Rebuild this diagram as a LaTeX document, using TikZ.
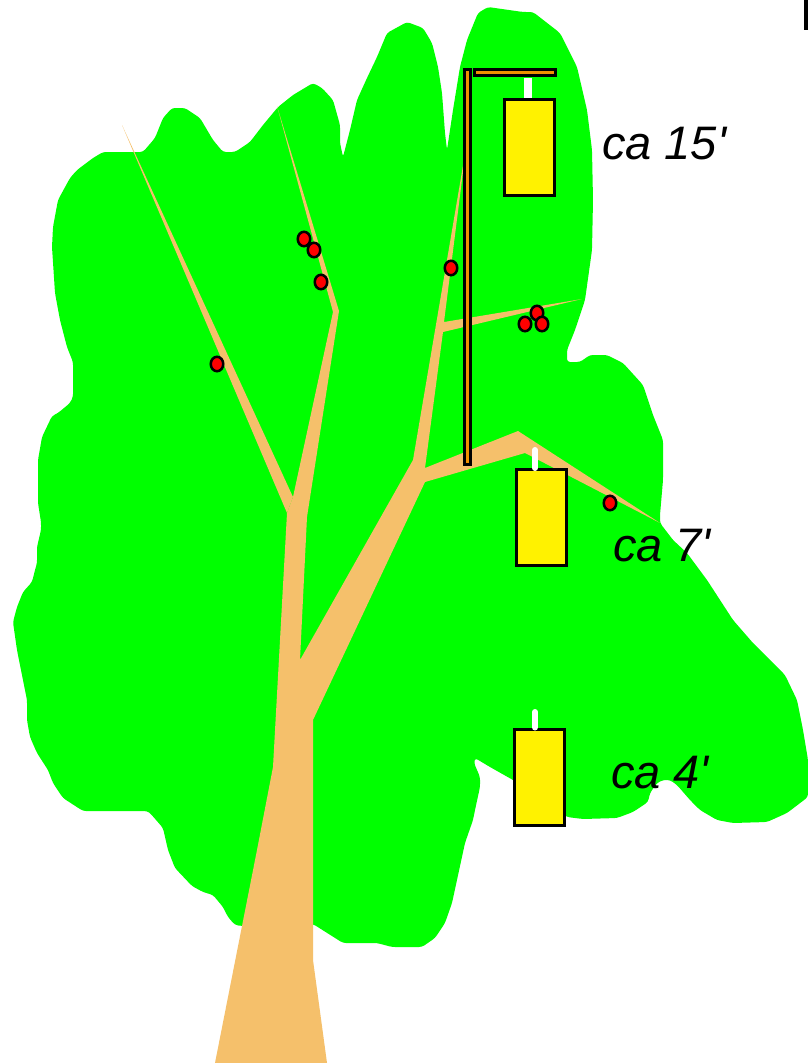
\documentclass[tikz,border=0pt]{standalone}
\usepackage{fontspec}
\newfontfamily\labelfont{Liberation Sans}
\usetikzlibrary{shapes.geometric}

\definecolor{leafgreen}{HTML}{00FF00}
\definecolor{bark}{HTML}{F5C06B}
\definecolor{polebrown}{HTML}{F09000}

\tikzset{
  leaves/.style={fill=leafgreen, rounded corners=3pt},
  wood/.style={fill=bark},
  pole/.style={draw=black, line width=3pt, fill=polebrown},
  trap/.style={rectangle, draw=black, line width=3pt, fill=yellow,
    minimum width=50pt, minimum height=96pt, inner sep=0pt},
  hanger/.style={white, line width=6pt, line cap=round},
  fruit/.style={ellipse, draw=black, line width=2.5pt, fill=red,
    minimum width=12.5pt, minimum height=14.5pt, inner sep=0pt},
  heightlabel/.style={font=\labelfont\itshape\fontsize{47}{50}\selectfont,
    anchor=base west, inner sep=0pt}
}

\begin{document}
\begin{tikzpicture}[x=1pt, y=-1pt]
  \useasboundingbox (0,0) rectangle (808,1063);
  \fill[white] (0,0) rectangle (808,1063);

  % crown
  \fill[leaves] plot[sharp plot] coordinates {
    (103,152) (143,152) (155,138) (163,118) (172,108) (185,108) (200,118)
    (213,140) (223,152) (235,152) (250,142) (263,125) (278,107) (293,95)
    (313,83) (322,88) (333,100) (340,125) (340,143) (343,157) (350,130)
    (357,100) (367,78) (377,57) (387,33) (407,22) (423,28) (432,43)
    (438,67) (442,93) (445,133) (447,150) (453,110) (460,67) (467,40)
    (478,13) (488,7) (523,12) (533,12) (560,33) (577,67) (587,110)
    (592,150) (593,200) (592,250) (585,300) (575,330) (567,350) (567,362)
    (580,362) (590,355) (607,355) (623,363) (643,385) (653,415) (663,440)
    (663,480) (660,515) (660,523) (673,540) (687,553) (707,580) (733,620)
    (753,643) (767,657) (785,675) (797,700) (803,730) (808,760) (808,797)
    (787,813) (767,822) (733,823) (717,820) (700,810) (690,800) (677,785)
    (670,780) (663,780) (657,783) (650,793) (648,802) (633,812) (617,818)
    (583,819) (567,817) (513,780) (490,767) (475,758) (474,763) (480,777)
    (480,787) (475,810) (473,820) (465,843) (452,903) (445,923) (435,938)
    (422,947) (392,947) (377,943) (343,943) (313,924) (242,926) (235,925)
    (228,917) (223,907) (213,895) (203,892) (192,886) (175,868) (168,850)
    (163,828) (150,813) (147,811) (83,811) (63,798) (53,783) (48,770)
    (37,753) (30,737) (27,720) (27,700) (17,650) (13,622) (17,607)
    (23,592) (32,582) (35,570) (37,563) (37,547) (41,530) (41,522)
    (38,503) (38,460) (42,437) (52,416) (58,413) (70,403) (73,397)
    (73,362) (67,347) (60,320) (55,293) (52,247) (53,227) (58,200)
    (70,178) (77,170) (93,158)} -- cycle;

  % trunk and branches
  \fill[wood] (122,125) -- (293,497) -- (287,513) -- cycle;
  \fill[wood] (215,1063) -- (257,850) -- (273,767) -- (287,513) -- (293,497)
    -- (333,312) -- (277,106) -- (339,311) -- (307,517) -- (300,660)
    -- (413,460) -- (466,148) -- (444,322) -- (582,299) -- (443,332)
    -- (425,468) -- (518,431) -- (660,523) -- (525,453) -- (425,482)
    -- (313,720) -- (313,960) -- (327,1063) -- cycle;

  % pole with its arm
  \draw[pole] (464,69.5) rectangle (470.5,464);
  \draw[pole] (474.5,69.5) rectangle (555.5,75.5);

  % traps
  \node[trap] (trapHigh) at (529.5,147.5) {};
  \node[trap] (trapMid) at (541.5,517.5) {};
  \node[trap] (trapLow) at (539.5,777) {};
  \coordinate (hookHigh) at (528,78);
  \coordinate (hookMid) at (535,450);
  \coordinate (hookLow) at (535,712);
  \draw[hanger, line cap=butt, line width=8pt] (hookHigh) -- (hookHigh |- trapHigh.north);
  \draw[hanger] (hookMid) -- (hookMid |- trapMid.north);
  \draw[hanger] (hookLow) -- (hookLow |- trapLow.north);

  % fruit
  \foreach \x/\y [count=\i] in {304/239, 314/250, 321/282, 217/364, 451/268,
      537/313, 525/324, 542/324, 610/503}
    \node[fruit] (fruit\i) at (\x,\y) {};

  \node[heightlabel] (labelHigh) at (602,159) {ca 15\textquotesingle};
  \node[heightlabel] (labelMid) at (613,561) {ca 7\textquotesingle};
  \node[heightlabel] (labelLow) at (611,788) {ca 4\textquotesingle};

  \fill[black] (804,0) rectangle (808,30);
\end{tikzpicture}
\end{document}
